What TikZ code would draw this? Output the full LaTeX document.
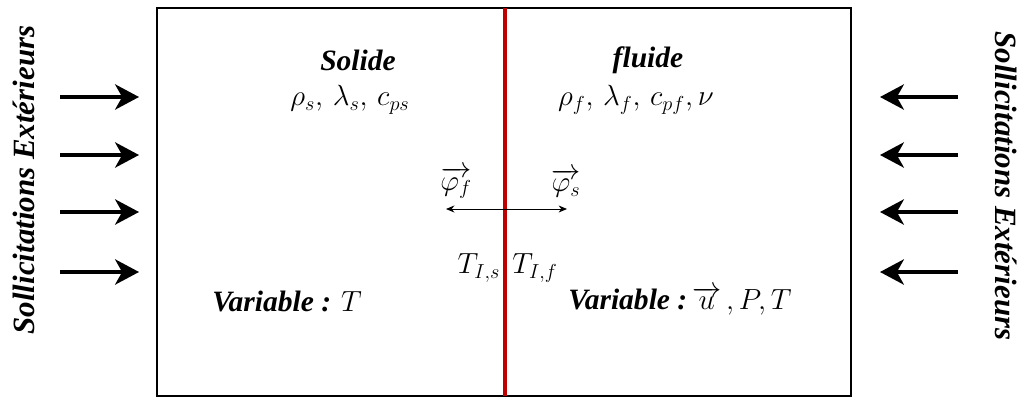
\documentclass[tikz,border=0pt]{standalone}
\usepackage{amsmath}
\usepackage{fontspec}
\setmainfont{Liberation Serif}
\usetikzlibrary{arrows.meta, positioning}

\tikzset{
    titre/.style={font=\fontsize{21}{25}\selectfont\bfseries\itshape, inner sep=0pt},
    formule/.style={font=\fontsize{20}{24}\selectfont, inner sep=0pt},
    charge/.style={line width=2.4pt, -{Stealth[length=17pt, width=18pt, inset=5pt]}},
    flux/.style={line width=0.6pt, {Stealth[length=6pt, width=5pt]}-{Stealth[length=6pt, width=5pt]}}
}

\begin{document}
\begin{tikzpicture}[x=0.025cm, y=-0.025cm]
    \useasboundingbox (0,0) rectangle (1025,401);

    % Domaine et interface
    \draw[line width=1.4pt] (157,8) rectangle (851,396);
    \coordinate (iHaut) at (505,8);
    \coordinate (iBas) at (505,396);
    \draw[line width=2.4pt, red!75!black] (iHaut) -- (iBas);

    % Solide
    \node[titre] (solide) at (358,60) {Solide};
    \node[formule] (propS) at (350,100) {$\rho_s,\, \lambda_s,\, c_{ps}$};
    \node[titre] (varS) at (287,301) {Variable : $T$};

    % Fluide
    \node[titre] (fluide) at (648,60) {fluide};
    \node[formule] (propF) at (636,100) {$\rho_f,\, \lambda_f,\, c_{pf}, \nu$};
    \node[titre] (varF) at (680,301) {Variable :\,$\overrightarrow{u}\,, P, T$};

    % Flux a l'interface
    \node[formule] (phiF) at (456,183) {$\overrightarrow{\varphi_f}$};
    \node[formule] (phiS) at (566,183) {$\overrightarrow{\varphi_s}$};
    \coordinate (fluxG) at (446,209);
    \coordinate (fluxD) at (567,209);
    \draw[flux] (fluxG) -- (fluxD);
    \node[formule] (tIs) at (479,268) {$T_{I,s}$};
    \node[formule] (tIf) at (535,268) {$T_{I,f}$};

    % Sollicitations a gauche
    \node[titre, font=\fontsize{22}{26}\selectfont\bfseries\itshape, rotate=90] (solG) at (24,180) {Sollicitations Ext\'erieurs};
    \coordinate (g1a) at (60,97);  \coordinate (g1b) at (139,97);
    \coordinate (g2a) at (60,155); \coordinate (g2b) at (139,155);
    \coordinate (g3a) at (60,212); \coordinate (g3b) at (139,212);
    \coordinate (g4a) at (60,272); \coordinate (g4b) at (139,272);
    \draw[charge] (g1a) -- (g1b);
    \draw[charge] (g2a) -- (g2b);
    \draw[charge] (g3a) -- (g3b);
    \draw[charge] (g4a) -- (g4b);

    % Sollicitations a droite
    \node[titre, font=\fontsize{22}{26}\selectfont\bfseries\itshape, rotate=-90] (solD) at (1006,186) {Sollicitations Ext\'erieurs};
    \coordinate (d1a) at (958,97);  \coordinate (d1b) at (880,97);
    \coordinate (d2a) at (958,155); \coordinate (d2b) at (880,155);
    \coordinate (d3a) at (958,212); \coordinate (d3b) at (880,212);
    \coordinate (d4a) at (958,272); \coordinate (d4b) at (880,272);
    \draw[charge] (d1a) -- (d1b);
    \draw[charge] (d2a) -- (d2b);
    \draw[charge] (d3a) -- (d3b);
    \draw[charge] (d4a) -- (d4b);
\end{tikzpicture}
\end{document}
